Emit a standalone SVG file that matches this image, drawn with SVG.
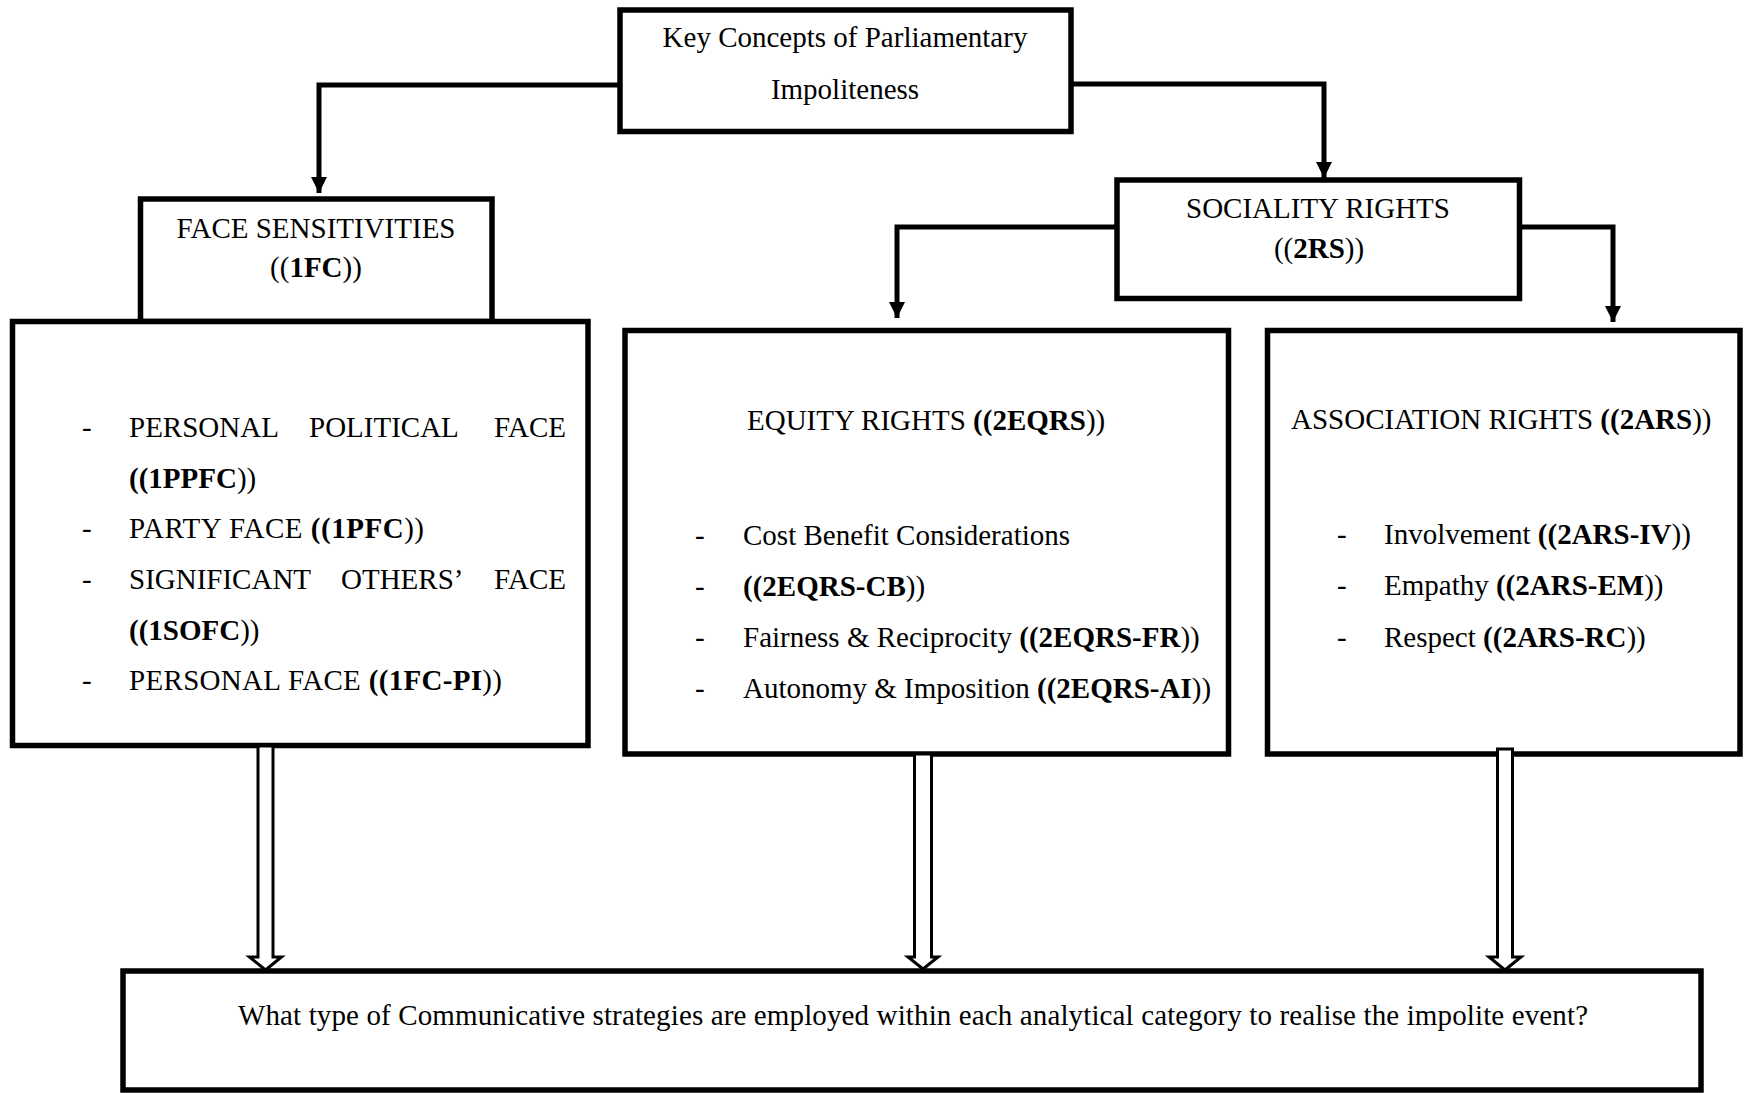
<svg xmlns="http://www.w3.org/2000/svg" width="1744" height="1093" viewBox="0 0 1744 1093">
  <style>
    .box { fill: #ffffff; stroke: #000000; stroke-width: 5.5; }
    .line { fill: none; stroke: #000000; stroke-width: 5; }
    .hollow { fill: #ffffff; stroke: #000000; stroke-width: 3; stroke-linejoin: miter; }
    text { font-family: "Liberation Serif", "Times New Roman", serif; font-size: 29px; fill: #000000; }
    .c { text-anchor: middle; }
    .b { font-weight: bold; }
  </style>
  <defs>
    <marker id="head" viewBox="0 0 10 10" refX="10" refY="5" markerUnits="userSpaceOnUse" markerWidth="16" markerHeight="16" orient="auto">
      <path d="M0,0 L10,5 L0,10 Z" fill="#000000"/>
    </marker>
  </defs>
  <rect width="1744" height="1093" fill="#ffffff"/>

  <!-- Root concept -->
  <g id="node-key-concepts">
    <rect class="box" x="620" y="10" width="451" height="121.5"/>
    <text class="c" x="845" y="47">Key Concepts of Parliamentary</text>
    <text class="c" x="845" y="99">Impoliteness</text>
  </g>

  <!-- Face sensitivities header -->
  <g id="node-face-sensitivities">
    <rect class="box" x="140.5" y="199" width="351.5" height="122.5"/>
    <text class="c" x="316" y="238">FACE SENSITIVITIES</text>
    <text class="c" x="316" y="277">((<tspan class="b">1FC</tspan>))</text>
  </g>

  <!-- Face sensitivities list -->
  <g id="node-face-list">
    <rect class="box" x="12.5" y="321.5" width="575.5" height="424"/>
    <text x="82" y="437">-</text>
    <text x="129" y="437">PERSONAL</text>
    <text x="309" y="437">POLITICAL</text>
    <text x="566" y="437" text-anchor="end">FACE</text>
    <text x="129" y="488"><tspan class="b">((1PPFC</tspan>))</text>
    <text x="82" y="538">-</text>
    <text x="129" y="538" textLength="295" lengthAdjust="spacing">PARTY FACE <tspan class="b">((1PFC</tspan>))</text>
    <text x="82" y="589">-</text>
    <text x="129" y="589">SIGNIFICANT</text>
    <text x="341" y="589">OTHERS’</text>
    <text x="566" y="589" text-anchor="end">FACE</text>
    <text x="129" y="640"><tspan class="b">((1SOFC</tspan>))</text>
    <text x="82" y="690">-</text>
    <text x="129" y="690" textLength="373" lengthAdjust="spacing">PERSONAL FACE <tspan class="b">((1FC-PI</tspan>))</text>
  </g>

  <!-- Sociality rights header -->
  <g id="node-sociality-rights">
    <rect class="box" x="1117" y="180" width="402.5" height="118.5"/>
    <text class="c" x="1318" y="218">SOCIALITY RIGHTS</text>
    <text class="c" x="1319" y="258">((<tspan class="b">2RS</tspan>))</text>
  </g>

  <!-- Equity rights -->
  <g id="node-equity-rights">
    <rect class="box" x="625" y="330.5" width="603.5" height="423.5"/>
    <text x="747" y="430">EQUITY RIGHTS <tspan class="b">((2EQRS</tspan>))</text>
    <text x="695" y="545">-</text>
    <text x="743" y="545">Cost Benefit Considerations</text>
    <text x="695" y="596">-</text>
    <text x="743" y="596"><tspan class="b">((2EQRS-CB</tspan>))</text>
    <text x="695" y="647">-</text>
    <text x="743" y="647">Fairness &amp; Reciprocity <tspan class="b">((2EQRS-FR</tspan>))</text>
    <text x="695" y="698">-</text>
    <text x="743" y="698">Autonomy &amp; Imposition <tspan class="b">((2EQRS-AI</tspan>))</text>
  </g>

  <!-- Association rights -->
  <g id="node-association-rights">
    <rect class="box" x="1267.5" y="330.5" width="472.5" height="423.5"/>
    <text x="1291" y="429">ASSOCIATION RIGHTS <tspan class="b">((2ARS</tspan>))</text>
    <text x="1337" y="544">-</text>
    <text x="1384" y="544">Involvement <tspan class="b">((2ARS-IV</tspan>))</text>
    <text x="1337" y="595">-</text>
    <text x="1384" y="595">Empathy <tspan class="b">((2ARS-EM</tspan>))</text>
    <text x="1337" y="647">-</text>
    <text x="1384" y="647">Respect <tspan class="b">((2ARS-RC</tspan>))</text>
  </g>

  <!-- Research question -->
  <g id="node-question">
    <rect class="box" x="123" y="971" width="1578" height="119"/>
    <text x="238" y="1025" textLength="1350" lengthAdjust="spacing">What type of Communicative strategies are employed within each analytical category to realise the impolite event?</text>
  </g>

  <!-- Connectors -->
  <g id="connectors">
    <polyline class="line" points="620,85 319,85 319,193" marker-end="url(#head)"/>
    <polyline class="line" points="1071,84 1324,84 1324,178" marker-end="url(#head)"/>
    <polyline class="line" points="1117,227 897,227 897,318" marker-end="url(#head)"/>
    <polyline class="line" points="1519,227 1613,227 1613,322" marker-end="url(#head)"/>

    <!-- hollow block arrows into the question box -->
    <path class="hollow" d="M258,746 L258,957 L249.5,957 L265.5,970 L281.5,957 L273,957 L273,746 Z"/>
    <path class="hollow" d="M914.5,754 L914.5,957 L908,957 L923,969 L938,957 L931.5,957 L931.5,754 Z"/>
    <path class="hollow" d="M1497.5,749 L1497.5,957 L1489,957 L1505,970 L1521,957 L1512.5,957 L1512.5,749 Z"/>
  </g>
</svg>
